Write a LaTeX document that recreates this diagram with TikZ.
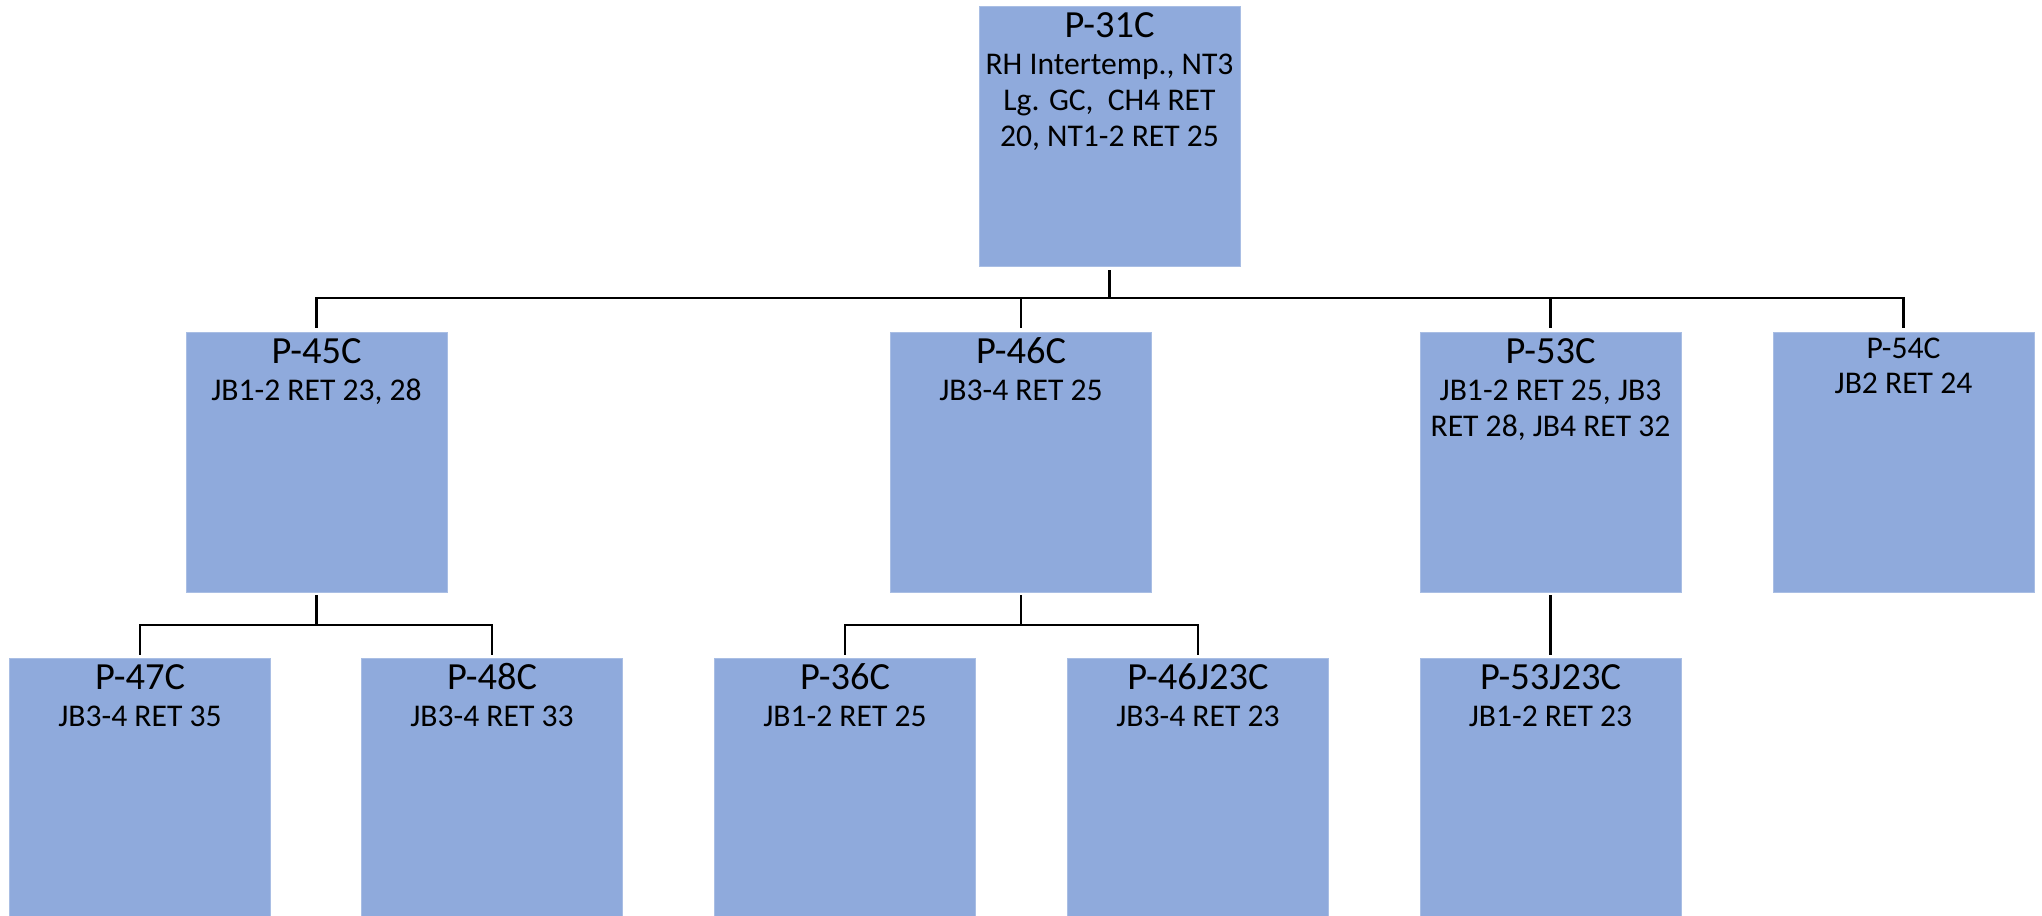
\documentclass[tikz,border=0pt]{standalone}
\usepackage{fontspec}
\setmainfont{Carlito}
\definecolor{boxblue}{HTML}{8FAADC}
\definecolor{boxedge}{HTML}{A9BEE4}
\tikzset{
  orgbox/.style={rectangle, fill=boxblue, draw=boxedge, line width=0.4pt,
    minimum width=130.5pt, minimum height=130pt, inner sep=0pt, outer sep=0pt, anchor=north},
  ttl/.style={anchor=base, inner sep=0pt, font=\fontsize{19.2pt}{23pt}\selectfont},
  ttlsm/.style={anchor=base, inner sep=0pt, font=\fontsize{15.8pt}{19pt}\selectfont},
  bdy/.style={anchor=base, inner sep=0pt, font=\fontsize{15.8pt}{19pt}\selectfont},
  conn/.style={draw=black, line width=1.4pt}
}
\begin{document}
\begin{tikzpicture}[x=0.5pt,y=-0.5pt]
\clip (0,0) rectangle (2042,916);
\fill[white] (0,0) rectangle (2042,916);
% boxes
\node[orgbox] (p31) at (1109.5,6) {};
\node[orgbox] (p45) at (316.5,332) {};
\node[orgbox] (p46) at (1021,332) {};
\node[orgbox] (p53) at (1550.5,332) {};
\node[orgbox] (p54) at (1903.5,332) {};
\node[orgbox] (p47) at (140,658) {};
\node[orgbox] (p48) at (492,658) {};
\node[orgbox] (p36) at (845,658) {};
\node[orgbox] (p46j) at (1198,658) {};
\node[orgbox] (p53j) at (1550.5,658) {};
% texts
\node[ttl] (t31) at (1109.5,37.5) {P-31C};
\node[bdy] (t31a) at (1109.5,74) {RH Intertemp., NT3};
\node[bdy] (t31b) at (1109.5,110) {Lg. GC,\ \ CH4 RET};
\node[bdy] (t31c) at (1109.5,146) {20, NT1-2 RET 25};
\node[ttl] (t45) at (316.5,363.5) {P-45C};
\node[bdy] (t45a) at (316.5,400) {JB1-2 RET 23, 28};
\node[ttl] (t46) at (1021,363.5) {P-46C};
\node[bdy] (t46a) at (1021,400) {JB3-4 RET 25};
\node[ttl] (t53) at (1550.5,363.5) {P-53C};
\node[bdy] (t53a) at (1550.5,400) {JB1-2 RET 25, JB3};
\node[bdy] (t53b) at (1550.5,436) {RET 28, JB4 RET 32};
\node[ttlsm] (t54) at (1903.5,358) {P-54C};
\node[bdy] (t54a) at (1903.5,393) {JB2 RET 24};
\node[ttl] (t47) at (140,689.5) {P-47C};
\node[bdy] (t47a) at (140,726) {JB3-4 RET 35};
\node[ttl] (t48) at (492,689.5) {P-48C};
\node[bdy] (t48a) at (492,726) {JB3-4 RET 33};
\node[ttl] (t36) at (845,689.5) {P-36C};
\node[bdy] (t36a) at (845,726) {JB1-2 RET 25};
\node[ttl] (t46j) at (1198,689.5) {P-46J23C};
\node[bdy] (t46ja) at (1198,726) {JB3-4 RET 23};
\node[ttl] (t53j) at (1550.5,689.5) {P-53J23C};
\node[bdy] (t53ja) at (1550.5,726) {JB1-2 RET 23};
% connectors
\foreach \c in {p45,p46,p53,p54}
  \draw[conn] ([yshift=-2pt]p31.south) -- ++(0,28) -| ([yshift=2pt]\c.north);
\foreach \c in {p47,p48}
  \draw[conn] ([yshift=-1.5pt]p45.south) -- ++(0,30) -| ([yshift=1.5pt]\c.north);
\foreach \c in {p36,p46j}
  \draw[conn] ([yshift=-1.5pt]p46.south) -- ++(0,30) -| ([yshift=1.5pt]\c.north);
\draw[conn] ([yshift=-1.5pt]p53.south) -- ([yshift=1.5pt]p53j.north);
\end{tikzpicture}
\end{document}
